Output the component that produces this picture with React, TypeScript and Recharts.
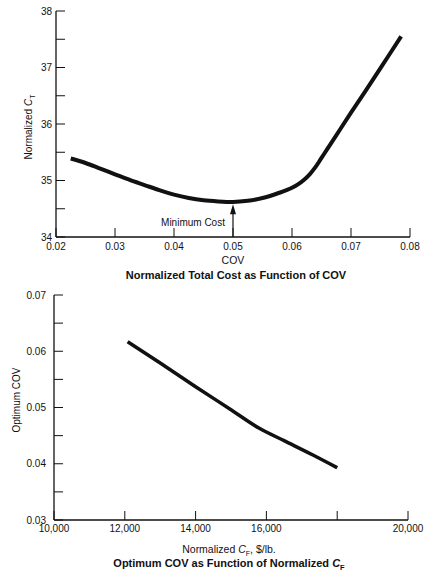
import React from 'react';
import { LineChart, Line, XAxis, YAxis, ReferenceLine, ReferenceDot, Label } from 'recharts';

const FONT = '"Liberation Sans", Arial, Helvetica, sans-serif';
const INK = '#111';

// Top panel: normalized total cost vs COV
const covValues = [0.0225, 0.025, 0.0275, 0.03, 0.0325, 0.035, 0.0375, 0.04, 0.0425, 0.045, 0.0475, 0.05, 0.0525, 0.055, 0.0575, 0.06, 0.061, 0.062, 0.063, 0.064, 0.065, 0.066, 0.0675, 0.07, 0.0725, 0.075, 0.0785];
const costValues = [35.39, 35.31, 35.21, 35.11, 35.01, 34.92, 34.83, 34.75, 34.69, 34.65, 34.63, 34.62, 34.64, 34.69, 34.77, 34.87, 34.93, 35.01, 35.11, 35.24, 35.4, 35.56, 35.8, 36.2, 36.59, 36.99, 37.55];
const covTicks = [0.02, 0.03, 0.04, 0.05, 0.06, 0.07, 0.08];
const costTicks = [34, 34.5, 35, 35.5, 36, 36.5, 37, 37.5, 38];
const costLabels = [34, 35, 36, 37, 38];
const minimumCostCov = 0.05;
const minimumCostTip = 34.58;

// Bottom panel: optimum COV vs normalized C_F
const cfValues = [12080, 13000, 14000, 15000, 15800, 16500, 17300, 18000];
const optimumCovValues = [0.0617, 0.0579, 0.0537, 0.0496, 0.0463, 0.0441, 0.0416, 0.0393];
const cfTicks = [10000, 12000, 14000, 16000, 18000, 20000];
const cfLabels = [10000, 12000, 14000, 16000, 20000];
const optimumCovTicks = [0.03, 0.035, 0.04, 0.045, 0.05, 0.055, 0.06, 0.065, 0.07];
const optimumCovLabels = [0.03, 0.04, 0.05, 0.06, 0.07];

const costData = covValues.map((cov, i) => ({ cov, cost: costValues[i] }));
const optimumData = cfValues.map((cf, i) => ({ cf, cov: optimumCovValues[i] }));

const inList = (list: number[], v: number) => list.some((l) => Math.abs(l - v) < 1e-9);

const textStyle = { fill: INK, fontSize: 10, fontFamily: FONT };
const labelStyle = { fill: INK, fontSize: 10.5, fontFamily: FONT };
const titleStyle = { fill: INK, fontSize: 11, fontFamily: FONT, fontWeight: 'bold' as const };
const axisLine = { stroke: INK, strokeWidth: 1.3 };
const tickLine = { stroke: INK, strokeWidth: 1 };

const MinimumCostMarker = (props: any) => {
  const { cx, cy } = props;
  return (
    <g>
      <path d={`M${cx},${cy} L${cx - 3},${cy + 10} L${cx + 3},${cy + 10} Z`} fill={INK} />
      <text x={cx - 40} y={cy + 22} textAnchor="middle" {...textStyle}>Minimum Cost</text>
    </g>
  );
};

const TopXLabel = () => (
  <g>
    <text x={233} y={264} textAnchor="middle" {...labelStyle}>COV</text>
    <text x={236} y={279} textAnchor="middle" {...titleStyle}>
      Normalized Total Cost as Function of COV
    </text>
  </g>
);

const TopYLabel = () => (
  <text transform="translate(32,127) rotate(-90)" textAnchor="middle" {...textStyle}>
    Normalized <tspan fontStyle="italic">C</tspan>
    <tspan fontSize={7} dy={3}>T</tspan>
  </text>
);

const BottomXLabel = () => (
  <g>
    <text x={229} y={263} textAnchor="middle" {...labelStyle}>
      Normalized <tspan fontStyle="italic">C</tspan>
      <tspan fontSize={7} dy={3}>F</tspan>
      <tspan dy={-3}>, $/lb.</tspan>
    </text>
    <text x={229} y={277} textAnchor="middle" {...titleStyle}>
      Optimum COV as Function of Normalized <tspan fontStyle="italic">C</tspan>
      <tspan fontSize={7.5} dy={3}>F</tspan>
    </text>
  </g>
);

const BottomYLabel = () => (
  <text transform="translate(20,110) rotate(-90)" textAnchor="middle" {...textStyle}>
    Optimum COV
  </text>
);

export default function App() {
  return (
    <div style={{ position: 'absolute', left: 0, top: 0, width: 430, height: 572, background: '#fff' }}>
      <LineChart width={430} height={290} data={costData} margin={{ top: 11, right: 20, bottom: 0, left: 0 }}>
        <XAxis
          dataKey="cov"
          type="number"
          domain={[0.02, 0.08]}
          ticks={covTicks}
          interval={0}
          height={53}
          tickFormatter={(v: number) => v.toFixed(2)}
          tick={textStyle}
          tickSize={-9}
          tickMargin={15}
          axisLine={axisLine}
          tickLine={tickLine}
          label={<Label content={TopXLabel} />}
        />
        <XAxis
          xAxisId="top"
          orientation="top"
          type="number"
          domain={[0.02, 0.08]}
          ticks={covTicks}
          interval={0}
          height={0}
          tickFormatter={() => ''}
          tickSize={-9}
          axisLine={axisLine}
          tickLine={tickLine}
        />
        <YAxis
          type="number"
          domain={[34, 38]}
          ticks={costTicks}
          interval={0}
          width={56}
          tickFormatter={(v: number) => (inList(costLabels, v) ? String(v) : '')}
          tick={textStyle}
          tickSize={-9}
          tickMargin={13}
          axisLine={axisLine}
          tickLine={tickLine}
          label={<Label content={TopYLabel} />}
        />
        <YAxis
          yAxisId="right"
          orientation="right"
          type="number"
          domain={[34, 38]}
          ticks={costTicks}
          interval={0}
          width={0}
          tickFormatter={() => ''}
          tickSize={-8}
          axisLine={axisLine}
          tickLine={tickLine}
        />
        <ReferenceLine
          segment={[{ x: minimumCostCov, y: 34 }, { x: minimumCostCov, y: 34.45 }]}
          stroke={INK}
          strokeWidth={1.2}
        />
        <ReferenceDot x={minimumCostCov} y={minimumCostTip} shape={MinimumCostMarker} />
        <Line
          type="monotone"
          dataKey="cost"
          stroke={INK}
          strokeWidth={4}
          dot={false}
          isAnimationActive={false}
        />
      </LineChart>
      <LineChart width={430} height={282} data={optimumData} margin={{ top: 5, right: 22, bottom: 0, left: 0 }}>
        <XAxis
          dataKey="cf"
          type="number"
          domain={[10000, 20000]}
          ticks={cfTicks}
          interval={0}
          height={52}
          tickFormatter={(v: number) => (inList(cfLabels, v) ? v.toLocaleString('en-US') : '')}
          tick={textStyle}
          tickSize={-9}
          tickMargin={14}
          axisLine={axisLine}
          tickLine={tickLine}
          label={<Label content={BottomXLabel} />}
        />
        <XAxis
          xAxisId="top"
          orientation="top"
          type="number"
          domain={[10000, 20000]}
          ticks={cfTicks}
          interval={0}
          height={0}
          tickFormatter={() => ''}
          tickSize={-10}
          axisLine={axisLine}
          tickLine={tickLine}
        />
        <YAxis
          type="number"
          domain={[0.03, 0.07]}
          ticks={optimumCovTicks}
          interval={0}
          width={54}
          tickFormatter={(v: number) => (inList(optimumCovLabels, v) ? v.toFixed(2) : '')}
          tick={textStyle}
          tickSize={-9}
          tickMargin={17}
          axisLine={axisLine}
          tickLine={tickLine}
          label={<Label content={BottomYLabel} />}
        />
        <YAxis
          yAxisId="right"
          orientation="right"
          type="number"
          domain={[0.03, 0.07]}
          ticks={optimumCovTicks}
          interval={0}
          width={0}
          tickFormatter={() => ''}
          tickSize={-9}
          axisLine={axisLine}
          tickLine={tickLine}
        />
        <Line
          type="monotone"
          dataKey="cov"
          stroke={INK}
          strokeWidth={3.5}
          dot={false}
          isAnimationActive={false}
        />
      </LineChart>
    </div>
  );
}
